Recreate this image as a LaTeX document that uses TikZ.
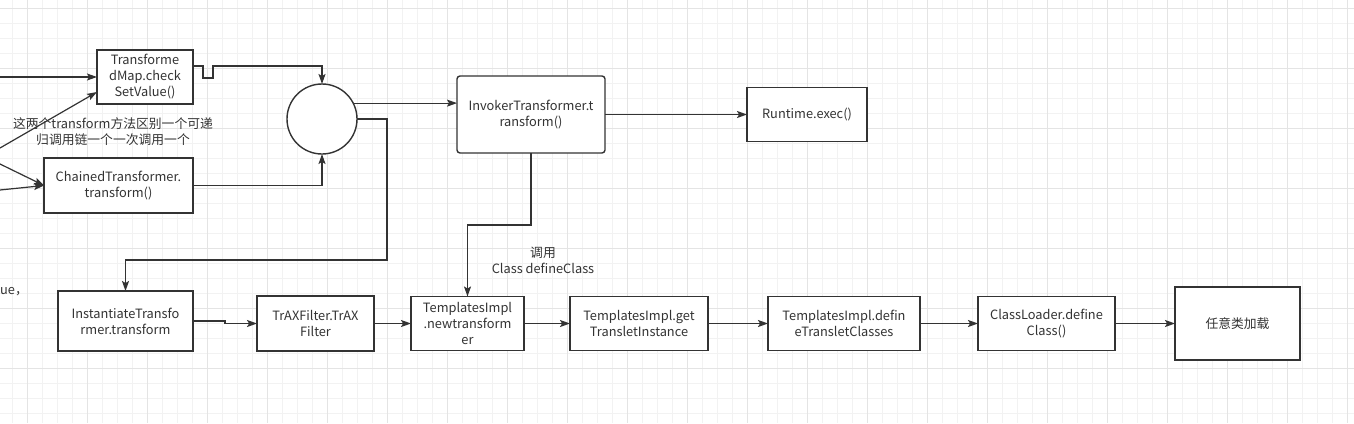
\documentclass[tikz,border=0pt]{standalone}
\usepackage{fontspec}
\setmainfont{Noto Sans CJK SC}
\usetikzlibrary{positioning,arrows.meta}
\definecolor{ink}{HTML}{333333}
\definecolor{gridminor}{HTML}{F2F2F2}
\definecolor{gridmajor}{HTML}{E4E4E4}

\begin{document}
\begin{tikzpicture}[
    x=1pt, y=-1pt,
    font=\fontsize{12.8}{16}\selectfont,
    text=ink,
    box/.style={
        rectangle,
        draw=ink,
        line width=1.4pt,
        fill=white,
        inner sep=0pt,
        outer sep=0pt,
        align=center
      },
    hubnode/.style={circle, draw=ink, line width=1.4pt, fill=white, minimum size=70pt, inner sep=0pt, outer sep=0pt},
    arrow/.style={-{Stealth[length=10pt,width=7pt,inset=2pt]},draw=ink,line width=1.2pt}
    ]
    \useasboundingbox (0,0) rectangle (1354,423);

    % grid
    \foreach \gx in {12,27,...,1354} \draw[gridminor,line width=1pt] (\gx,0) -- (\gx,423);
    \foreach \gy in {8,23,...,423} \draw[gridminor,line width=1pt] (0,\gy) -- (1354,\gy);
    \foreach \gx in {27,87,...,1354} \draw[gridmajor,line width=1pt] (\gx,0) -- (\gx,423);
    \foreach \gy in {8,68,...,423} \draw[gridmajor,line width=1pt] (0,\gy) -- (1354,\gy);

    \node[box,minimum width=96pt,minimum height=54pt] (tmap) at (145,77) {Transforme\\dMap.check\\SetValue()};
    \node[box,minimum width=149pt,minimum height=55pt] (chain) at (118.5,185.5) {ChainedTransformer.\\transform()};
    \node[hubnode] (hub) at (322,119) {};
    \node[box,rounded corners=3pt,minimum width=148pt,minimum height=77pt] (invoker) at (531,114.5) {InvokerTransformer.t\\ransform()};
    \node[box,minimum width=120pt,minimum height=54pt,right=142pt of invoker] (runtime) {Runtime.exec()};

    \node[box,minimum width=135pt,minimum height=60pt] (inst) at (125.5,321) {InstantiateTransfo\\rmer.transform};
    \node[box,minimum width=117pt,minimum height=55pt,right=64pt of inst,yshift=-2.5pt] (trax) {TrAXFilter.TrAX\\Filter};
    \node[box,minimum width=113pt,minimum height=54pt,right=37pt of trax] (newtf) {TemplatesImpl\\.newtransform\\er};
    \node[box,minimum width=138pt,minimum height=54pt,right=46pt of newtf] (getti) {TemplatesImpl.get\\TransletInstance};
    \node[box,minimum width=152pt,minimum height=54pt,right=60pt of getti] (defcls) {TemplatesImpl.defin\\eTransletClasses};
    \node[box,minimum width=137pt,minimum height=54pt,right=58pt of defcls] (loader) {ClassLoader.define\\Class()};
    \node[box,minimum width=125pt,minimum height=73pt,right=60pt of loader] (anyload) {任意类加载};

    \node[align=center] (note) at (113,132) {这两个transform方法区别一个可递\\归调用链一个一次调用一个};
    \node[anchor=west,inner sep=0pt] (cut) at (0,292) {ue，};
    \node[align=center] (calllbl) at (543,260) {调用\\Class defineClass};

    \coordinate (in1) at (0,77);
    \coordinate (in2) at (0,148);
    \coordinate (in3) at (0,164);
    \coordinate (in4) at (0,190);
    \coordinate (loop) at (387,260);
    \coordinate (bend) at (531,225);

    \draw[arrow] (in1)--(tmap.west);
    \draw[arrow] (in2)--([yshift=-15pt]tmap.west);
    \draw[arrow] (in3)--(chain.west);
    \draw[arrow] (in4)--(chain.west);
    \draw[arrow] ([yshift=11pt]tmap.east) -- ++(10,0) -- ++(0,12) -- ++(10,0) -- ++(0,-12) -| (hub.north);
    \draw[arrow] (chain.east) -| (hub.south);
    \draw[arrow] (hub.27)--(hub.27 -| invoker.west);
    \draw[arrow] (hub.east) -| (loop) -| (inst.north);
    \draw[arrow] (runtime.west -| invoker.east)--(runtime.west);
    \draw[arrow] (invoker.south)--(bend) -| (newtf.north);
    \draw[arrow] (inst.east) -- ++(32,0) |- (trax.west);
    \draw[arrow] (trax.east)--(newtf.west);
    \draw[arrow] (newtf.east)--(getti.west);
    \draw[arrow] (getti.east)--(defcls.west);
    \draw[arrow] (defcls.east)--(loader.west);
    \draw[arrow] (loader.east)--(anyload.west);

  \end{tikzpicture}
\end{document}
